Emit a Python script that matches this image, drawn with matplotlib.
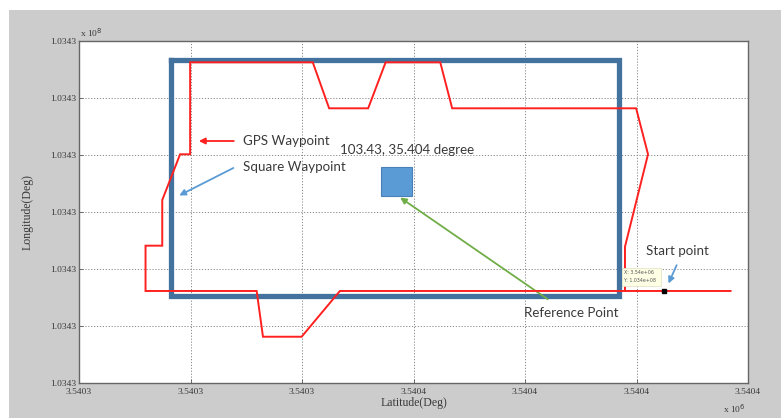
import numpy as np
import matplotlib
matplotlib.use('Agg')
import matplotlib.pyplot as plt
from matplotlib.patches import Rectangle

# GPS waypoint track (red), ordered along the path
gps_lat = [3540445.3, 3540416.9, 3540416.9, 3540423.1, 3540419.9, 3540370.4,
           3540367.2, 3540352.5, 3540347.8, 3540337.3, 3540332.9, 3540299.9,
           3540299.9, 3540297.2, 3540292.4, 3540292.4, 3540287.9, 3540287.9,
           3540317.8, 3540319.5, 3540329.9, 3540340.2, 3540416.9]
gps_lon = [103430161.3, 103430161.3, 103430238.9, 103430400.9, 103430481.5, 103430481.5,
           103430562.1, 103430562.1, 103430481.5, 103430481.5, 103430562.1, 103430562.1,
           103430400.9, 103430400.9, 103430320.8, 103430240.7, 103430240.7, 103430161.3,
           103430161.3, 103430081.1, 103430081.1, 103430161.3, 103430161.3]

# square waypoint (blue)
sq_lat = [3540294.7, 3540415.4, 3540415.4, 3540294.7, 3540294.7]
sq_lon = [103430566.2, 103430566.2, 103430153.0, 103430153.0, 103430566.2]

# reference point box and start point
ref_lat = [3540351.3, 3540359.5]
ref_lon = [103430328.3, 103430379.1]
start_lat = 3540427.4
start_lon = 103430161.3

xticks = [3540270, 3540300, 3540330, 3540360, 3540390, 3540420, 3540450]
xlabels = ['3.5403', '3.5403', '3.5403', '3.5404', '3.5404', '3.5404', '3.5404']
yticks = [103430000, 103430100, 103430200, 103430300, 103430400, 103430500, 103430600]
ylabels = ['1.0343'] * 7

gray = '#cccccc'
dark_blue = '#44729f'
light_blue = '#5b9bd5'
txt_col = '#3a3a3a'
anno_font = 'Lato'

fig = plt.figure(figsize=(7.81, 4.18), dpi=100)
fig.patch.set_facecolor('white')
fig.patches.append(Rectangle((9/781, 0), 1, 408/418, transform=fig.transFigure,
                             facecolor=gray, edgecolor='none', zorder=-10))

ax = fig.add_axes([79/781, 35/418, 669/781, 342.3/418])
ax.set_xlim(xticks[0], xticks[-1])
ax.set_ylim(yticks[0], yticks[-1])
ax.set_xticks(xticks)
ax.set_xticklabels(xlabels)
ax.set_yticks(yticks)
ax.set_yticklabels(ylabels)
ax.tick_params(direction='in', length=3, width=0.6, color='#555555',
               labelsize=6.8, labelcolor=txt_col, pad=2)
ax.tick_params(axis='x', pad=3.5)
for lab in ax.get_xticklabels() + ax.get_yticklabels():
    lab.set_family('Liberation Serif')
for s in ax.spines.values():
    s.set_color('#666666')
    s.set_linewidth(1.0)
ax.grid(True, linestyle=(0, (1.2, 1.8)), color='#888888', linewidth=0.7)

ax.plot(sq_lat, sq_lon, color=dark_blue, lw=3.8, solid_joinstyle='miter', zorder=3)
ax.plot(gps_lat, gps_lon, color='#ff2020', lw=1.4, solid_joinstyle='miter', zorder=4)

ax.add_patch(Rectangle((ref_lat[0], ref_lon[0]), ref_lat[1] - ref_lat[0],
                       ref_lon[1] - ref_lon[0], facecolor=light_blue,
                       edgecolor='#4a80b8', lw=0.8, zorder=5))
ax.plot([start_lat], [start_lon], 's', color='black', ms=3.5, zorder=6)

# data tip box
ax.add_patch(Rectangle((3540416.2, 103430170), 10.4, 32.1, facecolor='#ffffe6',
                       edgecolor='#e0e0c0', lw=0.5, zorder=6))
ax.text(3540416.6, 103430193, 'X: 3.54e+06', fontsize=3.4, color='#555555', va='center', zorder=7)
ax.text(3540416.6, 103430180, 'Y: 1.034e+08', fontsize=3.4, color='#555555', va='center', zorder=7)

# annotations
tkw = dict(fontsize=9.6, family=anno_font, color=txt_col, va='center', ha='left', zorder=8)
akw = dict(lw=1.3, mutation_scale=9)
ax.text(3540314.0, 103430424.2, 'GPS Waypoint', **tkw)
ax.annotate('', xy=(3540301.5, 103430424.2), xytext=(3540312.4, 103430424.2),
            arrowprops=dict(arrowstyle='-|>', color='#ff2020', **akw))
ax.text(3540314.0, 103430379.1, 'Square Waypoint', **tkw)
ax.annotate('', xy=(3540296.3, 103430326.5), xytext=(3540312.2, 103430379.1),
            arrowprops=dict(arrowstyle='-|>', color=light_blue, **akw))
ax.text(3540340.2, 103430408.4, '103.43, 35.404 degree', **tkw)
ax.text(3540389.7, 103430122.2, 'Reference Point', **tkw)
ax.annotate('', xy=(3540355.8, 103430327.8), xytext=(3540396.7, 103430144.2),
            arrowprops=dict(arrowstyle='-|>', color='#70ad47', **akw))
ax.text(3540422.5, 103430231.9, 'Start point', **tkw)
ax.annotate('', xy=(3540428.3, 103430170.0), xytext=(3540431.1, 103430210.9),
            arrowprops=dict(arrowstyle='-|>', color=light_blue, **akw))

# axis labels and exponents
ax.set_xlabel('Latitude(Deg)', family='Liberation Serif', fontsize=8.5,
              color=txt_col, labelpad=1)
ax.set_ylabel('Longitude(Deg)', family='Liberation Serif', fontsize=8.5,
              color=txt_col, labelpad=12)
fig.text(80/781, 1 - 33/418, 'x 10$^8$', family='Liberation Serif', fontsize=6.8,
         color=txt_col, va='center', ha='left')
fig.text(723/781, 1 - 409/418, 'x 10$^6$', family='Liberation Serif', fontsize=6.8,
         color=txt_col, va='center', ha='left')

fig.savefig('out.png', dpi=100, facecolor=fig.get_facecolor())
